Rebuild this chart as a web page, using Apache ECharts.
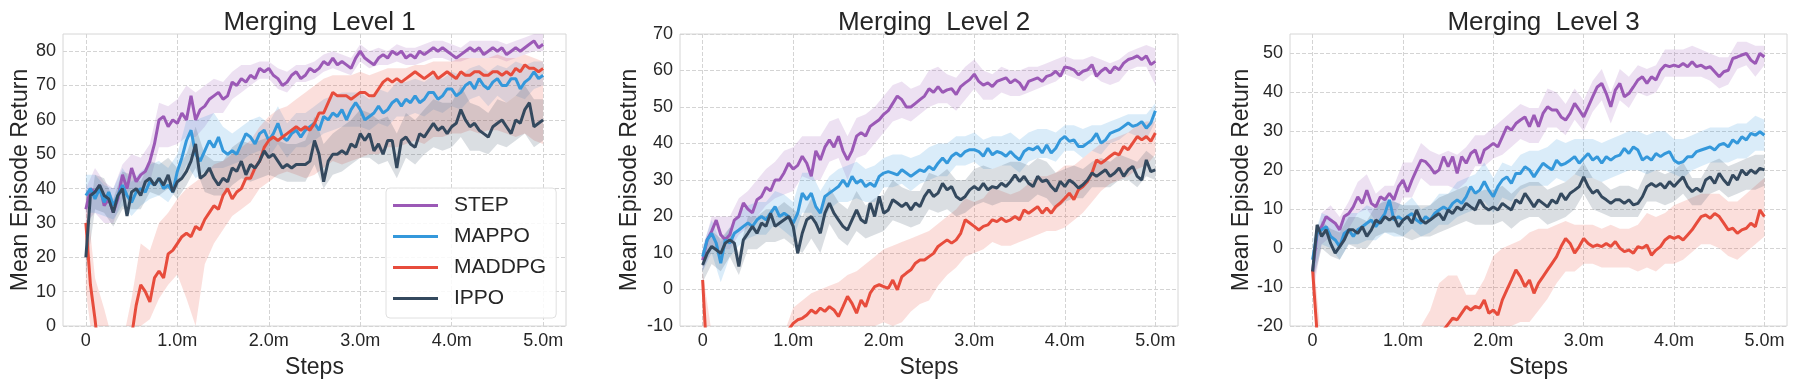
<!DOCTYPE html>
<html>
<head>
<meta charset="utf-8">
<script src="https://cdn.jsdelivr.net/npm/echarts@6/dist/echarts.min.js"></script>
<style>
  html, body { margin: 0; padding: 0; background: #fff; }
  #chart { width: 1799px; height: 386px; }
</style>
</head>
<body>
<div id="chart"></div>
<script>
// x positions (million steps)
const steps = Array.from({ length: 101 }, (_, i) => +(i * 0.05).toFixed(2));
const bandSteps = Array.from({ length: 51 }, (_, i) => +(i * 0.1).toFixed(1));

const algos = ['STEP', 'MAPPO', 'MADDPG', 'IPPO'];
const xTicks = [0, 1, 2, 3, 4, 5];

// ---- Merging Level 1 ----
const l1YTicks = [0, 10, 20, 30, 40, 50, 60, 70, 80];
const l1Step = [34,40,39,41,35,37,33,37,44,40, 46,42,44,45,48,53,60,61,58,60,
  59,62,60,67,60,63,64,66,67,68, 66,67,71,70,72,71,73,72,75,74,
  75,73,72,70,71,73,74,72,73,75, 74,75,77,76,78,76,77,76,75,78,
  80,78,77,76,78,79,78,80,79,80, 78,79,78,80,79,80,81,80,81,80,
  79,78,79,80,81,80,81,79,80,81, 80,81,79,80,81,80,81,82,83,81, 82];
const l1Mappo = [38,40,37,40,36,39,35,38,41,38, 36,39,40,39,42,41,43,40,41,39,
  45,49,54,57,50,48,51,54,52,55, 51,50,51,50,53,56,55,53,56,57,
  54,56,59,55,54,56,57,55,57,58, 59,57,61,60,62,61,63,60,63,65,
  63,60,61,62,64,62,63,65,66,64, 66,65,67,65,66,68,68,66,67,69,
  69,67,68,70,71,69,72,70,69,71, 72,70,70,72,72,69,71,72,74,72, 73];
const l1Maddpg = [30,12,2,-10,-20,-25,-28,-25,-18,-10, -3,6,12,10,7,14,16,14,21,22,
  24,26,27,26,29,28,31,33,35,34, 38,40,37,39,40,43,43,46,48,52,
  54,55,54,55,56,57,58,57,58,57, 59,62,62,65,68,67,67,67,66,67,
  68,68,67,67,69,71,72,71,72,71, 72,73,74,73,72,73,74,72,73,74,
  73,72,74,73,73,74,74,73,73,74, 74,73,74,73,75,74,76,75,75,74, 75];
const l1Ippo = [20,38,39,41,38,37,33,38,40,32, 39,40,38,42,43,41,43,41,44,39,
  42,43,45,48,53,43,44,46,43,41, 43,42,46,45,48,44,47,46,48,51,
  49,50,48,46,47,46,47,47,47,48, 54,50,42,48,50,50,51,50,53,52,
  56,54,56,51,53,50,54,54,46,54, 55,53,52,56,55,57,59,57,58,56,
  58,59,63,60,58,59,57,56,55,58, 59,60,58,56,60,59,63,65,58,59, 60];
const l1StepLo = [30,33,30,30,37,40,39,42,52,52, 53,55,55,58,62,62,66,68,70,72,
  72,69,68,71,71,72,74,75,74,73, 77,75,76,76,77,76,76,77,78,78, 77,77,78,78,78,78,77,78,79,80, 80];
const l1StepHi = [40,46,42,40,47,50,49,53,65,64, 66,70,68,70,72,71,74,76,76,77,
  77,75,74,76,76,77,79,80,79,78, 82,80,81,80,82,81,81,82,83,83, 82,81,83,83,83,83,82,83,84,85, 85];
const l1MappoLo = [33,33,32,31,35,32,35,37,38,36, 40,47,43,45,46,46,47,48,50,51,
  49,53,49,52,52,54,56,57,58,58, 58,57,59,58,61,61,62,61,63,62, 64,63,66,67,64,67,65,67,66,69, 70];
const l1MappoHi = [44,44,41,40,46,42,45,47,48,46, 50,60,60,61,62,58,56,58,60,61,
  59,64,59,62,62,64,66,67,68,68, 68,66,69,68,71,71,72,71,73,72, 74,73,75,76,74,76,75,77,76,77, 77];
const l1MaddpgLo = [10,-10,-30,-30,-30,-20,0,2,8,12, 15,8,0,18,24,28,32,34,36,40,
  42,44,45,44,43,44,46,48,47,48, 49,50,50,52,52,53,54,53,55,55, 56,56,57,56,57,57,56,55,56,54, 53];
const l1MaddpgHi = [40,14,5,-5,-5,8,24,22,30,33, 37,40,42,44,47,48,50,52,54,58,
  61,63,64,66,68,70,72,73,73,73, 74,73,74,75,75,75,76,76,77,77, 77,78,78,78,78,79,78,78,79,78, 77];
const l1IppoLo = [15,34,33,29,34,34,34,39,38,40, 37,41,46,39,38,38,41,43,42,43,
  44,43,42,42,42,47,40,44,45,47, 49,49,47,48,43,49,47,50,52,51, 52,55,51,51,50,53,52,54,56,52, 54];
const l1IppoHi = [25,44,43,37,45,44,42,48,47,49, 46,50,58,50,48,48,52,54,53,54,
  55,54,53,53,54,61,53,56,58,60, 63,62,60,61,56,62,60,63,66,65, 65,70,65,64,62,66,65,67,70,66, 66];

// ---- Merging Level 2 ----
const l2YTicks = [-10, 0, 10, 20, 30, 40, 50, 60, 70];
const l2Step = [8,13.6,16,19,15,13.6,15,19,20,23.7, 22,21,24.6,25.5,28,27,30,30,32,34.6,
  33,34,36.5,34.6,31,38,35.5,39,41,39, 42,38,35.5,38,42,43,42,44.7,45.6,46.5,
  48,49,51,53,52,50,50,51,52,53, 55,54,55.6,54,54.7,55,53.4,55.6,56.6,57.5,
  59,57,56,56.6,55.6,57,57.5,58,56.6,57.5, 56.6,54.7,57,57.5,58,57,58.4,58.8,59.8,58.4,
  61,60.7,60.2,58.8,59.8,60.2,61.6,58.4,59.8,60.7, 59.3,61,60.2,62,63,63.4,64,63,64,61.6, 62.5];
const l2Mappo = [9,13.6,15.4,12.7,7.2,13.6,12.7,15.4,16.3,17.3, 18.2,17.3,19.1,20,19.1,20.9,22.7,20,20.9,20,
  18.2,20.9,26.4,24.6,26.4,22.7,20.9,25.5,26.4,27.3, 28.2,30,28.2,31,29.1,30,28.2,29.1,28.2,31,
  31.9,32.3,31.9,31.4,32.8,31.9,31,31.9,32.8,32.3, 33.7,32.8,34.6,36,34.6,36.5,37.4,36.5,37.8,38.3,
  38.3,37.8,36.5,38.7,36.9,37.8,37.4,36.5,37.8,36.5, 35.5,37.8,38.7,38.3,39.2,37.4,39.6,37.4,38.7,41,
  41.9,40.6,41,39.2,39.2,40.1,41,42.8,40.1,41, 42.8,43.3,43.8,44.7,45.6,44.7,45.1,46,44.2,45.6, 49];
const l2Maddpg = [2.6,-20,-30,-32,-33,-34,-33,-32,-30,-29, -27,-26,-24,-22,-20,-18,-16,-14,-12.5,-11,
  -9.3,-8.3,-7.9,-7,-5.6,-6.5,-5.1,-6,-4.7,-5.6, -7.4,-4.7,-1.9,-3.8,-6.5,-2.9,-4.7,-1,0.8,1.3,
  0.8,0.3,2.6,-0.1,3.5,4.5,5.4,7.2,8.1,8.1, 9,9.9,11.8,12.7,13.6,12.7,13.6,15.4,19.1,18.2,
  17.3,16.3,17.3,17.7,19.1,18.6,19.5,18.6,19.1,20, 19.1,21.8,20.9,21.8,22.7,20.9,22.3,20.9,22.7,23.7,
  25,26.4,24.6,27.3,28.2,29.6,31.9,35.5,34.6,35.5, 36.5,37.4,36.9,39.2,38.3,40.1,41.9,41,41.9,40.6, 42.9];
const l2Ippo = [6.7,9.9,11.8,10.9,9.9,12.7,13.6,12.7,6.3,13.6, 15.4,17.3,15.4,18.2,17.3,20.9,17.3,18.2,19.1,20,
  17.3,9.9,15.4,19.1,20,18.2,15.4,20.9,23.7,20.9, 19.1,17.3,16.3,19.1,21.8,19.1,18.2,23.7,20,25.5,
  20.9,21.8,24.6,23.7,22.7,23.7,21.8,23.7,22.7,25.5, 27.3,25.5,26.4,29.1,27.3,28.2,25.5,24.6,25.5,27.3,
  28.2,27.3,29.1,27.3,28.2,27.8,29.1,28.2,29.6,31.4, 29.6,31,29.1,28.2,31,29.6,30,28.2,26.9,29.6,
  28.2,30,29.1,27.8,28.7,30,31.9,31,31.9,32.8, 31,31.9,33.3,31,32.8,33.7,31,30,35.5,32.3, 32.8];
const l2StepLo = [5,11,11,11,15,17,20,23,25,26, 27,31,30,30,35,36,30,36,37,40,
  43,46,47,46,48,50,51,51,49,52, 55,52,52,54,53,53,54,55,56,57, 59,58,57,59,57,56,57,60,61,61, 56];
const l2StepHi = [11,20,20,20,25,27,30,33,35,38, 39,42,42,42,46,47,42,47,48,50,
  53,56,57,55,56,60,61,59,58,61, 63,60,59,61,60,60,61,61,62,63, 64,63,63,64,63,62,63,65,66,67, 66];
const l2MappoLo = [5,10,2,9,12,14,15,15,18,16, 14,21,21,17,22,24,24,25,24,24,
  28,28,29,27,29,30,31,31,34,34, 35,33,33,34,34,32,35,36,36,35, 38,38,36,38,37,40,41,43,42,41, 46];
const l2MappoHi = [12,19,13,17,21,23,24,24,27,26, 24,32,32,27,31,33,34,35,33,34,
  36,37,37,36,37,39,40,40,42,42, 43,41,42,42,43,41,43,44,44,43, 45,45,44,45,45,46,47,48,48,48, 51];
const l2MaddpgLo = [-20,-40,-40,-40,-40,-40,-40,-40,-40,-40, -20,-18,-16,-15,-14,-13,-12,-12,-11,-10,
  -9,-10,-9,-6,-4,-3,1,4,6,9, 10,11,13,12,12,13,14,15,16,16, 17,19,21,24,27,29,30,31,33,34, 37];
const l2MaddpgHi = [5,-12,-12,-12,-12,-12,-12,-12,-12,-12, -5,-3,-1,0,1,2,4,5,7,9,
  11,12,13,14,15,16,18,20,22,25, 24,25,28,27,26,27,29,31,31,32, 34,34,36,38,40,41,42,43,45,46, 46];
const l2IppoLo = [2,7,5,9,4,11,11,13,13,14, 12,10,14,10,18,14,12,16,14,15,
  16,19,18,17,18,22,21,22,20,21, 23,24,23,24,24,24,24,26,25,22, 24,25,25,28,28,28,30,30,28,31, 30];
const l2IppoHi = [10,16,14,17,10,20,20,22,22,24, 22,20,25,21,28,24,22,27,23,25,
  26,30,28,27,27,32,31,33,30,30, 33,34,33,34,35,35,34,36,35,32, 33,34,33,35,36,35,37,36,35,38, 36];

// ---- Merging Level 3 ----
const l3YTicks = [-20, -10, 0, 10, 20, 30, 40, 50];
const l3Step = [-6,3.8,5.5,8.1,7.2,6.4,4.7,8.1,8.9,10.6, 13.2,11.5,14.9,11.5,10.6,13.2,12.4,14.1,12.4,15.8,
  17.5,14.5,17.5,20.1,22.6,22.2,20.9,19.2,20.1,23.5, 20.9,23.5,19.2,23.5,21.8,24.3,25.2,21.8,25.2,26,
  26.9,26,28.6,31.2,30.3,32,32.9,33.7,31.2,34.2, 31.2,34.6,36.3,35.5,35.5,33.7,32.9,34.6,37.2,35.5,
  33.7,36.3,38.9,41.4,42.3,39.7,36.3,40.6,42.3,38.9, 39.7,41.4,43.2,44,42.3,44,43.2,45.7,47,46.6,
  47,46.6,47.4,46.6,47.9,46.6,47,46.2,46.6,45.3, 44,45.3,45.7,48.7,49.1,49.6,50,48.3,47.4,50, 49.1];
const l3Mappo = [-3,3.8,4.7,5.5,3,2.1,0.4,3.8,4.7,3, 4.7,5.5,6.4,7.2,5.5,7.2,8.9,12.4,7.2,8.1,
  7.2,8.1,8.9,7.2,6.4,8.1,7.2,8.9,9.8,10.6, 9.8,11.5,12.4,11.5,13.2,15.8,14.1,14.9,17.1,14.9,
  13.2,15.8,17.5,18.3,16.6,19.2,19.2,20.9,20.1,18.3, 20.1,21.8,20.9,20.1,22.6,21.3,21.8,22.6,23.5,21.8,
  23.1,24.3,22.6,23.5,21.8,23.5,22.6,23.5,23.9,25.6, 24.3,26,25.2,22.6,23.5,22.6,24.3,23.5,24.3,24.8,
  22.6,21.8,22.2,23.5,23.5,24.8,25.2,25.6,26,25.2, 26.5,26.9,26,27.8,26.9,28.6,27.8,29.5,29,29.9, 29];
const l3Maddpg = [-5.6,-22,-35,-38,-40,-40,-40,-39,-38,-37, -36,-35,-34,-33,-32,-31,-30,-30,-29,-29,
  -28,-28,-27,-26,-25,-25,-24,-23,-22,-21, -19.5,-18,-18.4,-16.7,-15,-15.9,-15,-15.4,-13.3,-16.7,
  -15.9,-17.2,-13.3,-10.7,-8.2,-5.6,-7.3,-9.9,-8.2,-11.6, -9,-7.3,-5.6,-3.9,-2.2,0.4,2.5,1.2,-1.3,0.4,
  2.5,1.2,0.4,0.8,0.4,1.2,0.4,1.7,0,-0.9, -0.5,-1.3,0.4,0,0.8,-1.8,-0.5,0.4,2.1,3,
  2.5,3,2.1,3.4,4.7,6.4,8.1,8.5,7.7,8.9, 8.1,6.4,4.7,5.1,3.8,4.7,5.1,6.4,5.5,9.8, 8.1];
const l3Ippo = [-6,6,3,4.7,1.2,-1.3,0.4,2.1,4.7,4.7, 3.8,5.5,3,4.7,7.2,6.4,8.1,7.2,8.1,5.5,
  7.2,8.1,6.4,9.8,7.2,6.4,7.2,8.1,8.9,7.2, 9.8,8.9,10.6,9.8,11.5,10.6,9.8,12.4,10.6,9.8,
  10.6,9.8,11.5,10.6,9.8,12.4,11.5,14.1,12.4,10.6, 12.4,11.5,10.6,12.4,11.5,14.1,12.4,14.1,14.9,15.8,
  18.3,15.8,14.1,14.9,13.2,12.4,11.5,12.4,12.4,11.5, 12.4,11.1,11.5,13.2,15.8,16.6,15.8,16.6,15.4,17.1,
  15.8,17.1,18.3,15.8,14.5,15.4,14.5,17.5,18.3,16.6, 19.2,17.5,16.2,18.8,17.5,20.1,18.8,20.1,19.2,20.5, 20.1];
const l3StepLo = [-12,1,3,1,5,9,10,7,8,8, 13,13,18,16,16,16,15,17,21,21,
  23,24,26,28,27,27,31,31,29,33, 30,35,38,32,38,36,40,39,40,44, 44,44,44,44,43,41,42,46,47,44, 47];
const l3StepHi = [-2,9,11,8,12,17,19,14,16,16, 22,22,27,25,24,25,24,26,29,29,
  31,33,35,37,36,36,41,40,37,41, 38,43,46,40,46,44,47,46,47,51, 51,51,52,51,50,49,49,53,53,52, 52];
const l3MappoLo = [-8,1,0,-3,1,1,2,2,4,3, 3,5,3,4,6,6,8,9,10,12,
  9,13,12,15,16,16,16,18,17,19, 18,18,17,18,19,20,20,19,20,20, 19,18,20,21,22,22,22,23,23,25, 25];
const l3MappoHi = [2,9,8,5,9,9,11,10,13,12, 11,13,10,11,14,14,17,18,19,22,
  18,22,21,24,25,25,26,28,27,28, 28,28,27,28,29,30,30,29,30,30, 28,28,29,30,31,31,31,32,32,34, 33];
const l3MaddpgLo = [-10,-40,-40,-40,-40,-40,-40,-40,-40,-40, -40,-40,-40,-40,-40,-40,-35,-30,-28,-26,
  -25,-22,-20,-19,-19,-16,-13,-9,-6,-6, -4,-4,-5,-5,-5,-5,-6,-5,-6,-4, -4,-3,-1,1,1,0,-2,-3,-1,1, 3];
const l3MaddpgHi = [0,-25,-25,-25,-25,-25,-25,-25,-25,-25, -25,-25,-20,-16,-9,-7,-7,-12,-12,-8,
  -2,0,1,2,4,5,5,6,7,6, 6,6,5,6,5,5,6,9,8,9, 11,12,13,14,14,14,12,12,14,16, 18];
const l3IppoLo = [-9,0,-2,-3,1,0,0,3,4,4, 3,2,3,3,4,5,6,7,6,6,
  6,7,5,7,8,8,6,7,8,10, 14,10,9,8,8,8,8,12,12,11, 12,14,11,11,14,15,13,14,15,15, 16];
const l3IppoHi = [-1,7,5,4,8,8,7,11,12,12, 11,11,11,11,13,14,15,16,14,15,
  15,16,14,16,17,17,15,16,17,19, 22,18,17,15,16,16,15,20,20,19, 20,22,18,18,22,23,21,22,23,24, 24];

// panel data
const panels = [
  { title: 'Merging  Level 1', min: 0, max: 85, yTicks: l1YTicks,
    means: [l1Step, l1Mappo, l1Maddpg, l1Ippo],
    lows: [l1StepLo, l1MappoLo, l1MaddpgLo, l1IppoLo],
    highs: [l1StepHi, l1MappoHi, l1MaddpgHi, l1IppoHi] },
  { title: 'Merging  Level 2', min: -10, max: 70, yTicks: l2YTicks,
    means: [l2Step, l2Mappo, l2Maddpg, l2Ippo],
    lows: [l2StepLo, l2MappoLo, l2MaddpgLo, l2IppoLo],
    highs: [l2StepHi, l2MappoHi, l2MaddpgHi, l2IppoHi] },
  { title: 'Merging  Level 3', min: -20, max: 55, yTicks: l3YTicks,
    means: [l3Step, l3Mappo, l3Maddpg, l3Ippo],
    lows: [l3StepLo, l3MappoLo, l3MaddpgLo, l3IppoLo],
    highs: [l3StepHi, l3MappoHi, l3MaddpgHi, l3IppoHi] },
];

// layout / style
const layout = [
  { left: 63, width: 503, nameGap: 29 },
  { left: 680, width: 498, nameGap: 39 },
  { left: 1290, width: 497, nameGap: 37 },
];
const colors = ['#9b59b6', '#3498db', '#e74c3c', '#34495e'];
const FONT = '"Liberation Sans", Arial, sans-serif';
const TXT = '#262626';

const rgba = (hex, a) => {
  const n = parseInt(hex.slice(1), 16);
  return `rgba(${(n >> 16) & 255},${(n >> 8) & 255},${n & 255},${a})`;
};

const chart = echarts.init(document.getElementById('chart'), null, { renderer: 'canvas' });

const grid = [], xAxis = [], yAxis = [], title = [], series = [];

panels.forEach((p, k) => {
  const L = layout[k];
  grid.push({ left: L.left, top: 34, width: L.width, height: 292, show: true,
    borderColor: '#d6d6d6', borderWidth: 1, backgroundColor: 'transparent' });
  title.push({ text: p.title, left: L.left + L.width / 2, top: 5, textAlign: 'center',
    textStyle: { fontSize: 26, fontWeight: 'normal', color: TXT, fontFamily: FONT } });
  xAxis.push({
    type: 'value', gridIndex: k, min: -0.25, max: 5.25,
    axisLine: { show: false },
    axisTick: { show: false, customValues: xTicks },
    axisLabel: { customValues: xTicks, fontSize: 18, color: TXT, fontFamily: FONT, margin: 6,
      formatter: (v) => (v === 0 ? '0' : v.toFixed(1) + 'm') },
    splitLine: { show: true, lineStyle: { color: '#d4d4d4', width: 1, type: [4, 2] } },
    name: 'Steps', nameLocation: 'middle', nameGap: 30,
    nameTextStyle: { fontSize: 23, color: TXT, fontFamily: FONT },
  });
  yAxis.push({
    type: 'value', gridIndex: k, min: p.min, max: p.max,
    axisLine: { show: false },
    axisTick: { show: false, customValues: p.yTicks },
    axisLabel: { customValues: p.yTicks, fontSize: 18, color: TXT, fontFamily: FONT, margin: 7 },
    splitLine: { show: true, lineStyle: { color: '#d4d4d4', width: 1, type: [4, 2] } },
    name: 'Mean Episode Return', nameLocation: 'middle', nameGap: L.nameGap,
    nameTextStyle: { fontSize: 23, color: TXT, fontFamily: FONT },
  });

  // shaded bands
  algos.forEach((name, j) => {
    const rows = bandSteps.map((t, i) => [t, p.lows[j][i], p.highs[j][i]]);
    series.push({
      type: 'custom', name: name + ' band ' + (k + 1), xAxisIndex: k, yAxisIndex: k,
      silent: true, z: 1, data: rows, encode: { x: 0, y: [1, 2] },
      renderItem: (params, api) => {
        if (params.dataIndex !== 0) return null;
        const upper = rows.map((r) => api.coord([r[0], r[2]]));
        const lower = rows.map((r) => api.coord([r[0], r[1]])).reverse();
        const cs = params.coordSys;
        return {
          type: 'polygon',
          shape: { points: upper.concat(lower) },
          style: { fill: rgba(colors[j], 0.18) },
          clipPath: { type: 'rect', shape: { x: cs.x, y: cs.y, width: cs.width, height: cs.height } },
        };
      },
    });
  });

  // mean lines
  algos.forEach((name, j) => {
    series.push({
      type: 'line', name: name, xAxisIndex: k, yAxisIndex: k, z: 3, silent: true,
      data: steps.map((t, i) => [t, p.means[j][i]]),
      symbol: 'none', showSymbol: false,
      lineStyle: { color: colors[j], width: 3 },
      itemStyle: { color: colors[j] },
    });
  });
});

chart.setOption({
  animation: false,
  backgroundColor: '#ffffff',
  title, grid, xAxis, yAxis, series,
  legend: {
    data: algos, orient: 'vertical', left: 386, top: 188,
    icon: 'rect', itemWidth: 45, itemHeight: 3, itemGap: 10,
    padding: [7, 10, 9, 7],
    backgroundColor: 'rgba(255,255,255,0.85)', borderColor: '#e0e0e0', borderWidth: 1, borderRadius: 4,
    textStyle: { fontSize: 21, color: TXT, fontFamily: FONT, lineHeight: 21, padding: [0, 0, 0, 11] },
  },
});
</script>
</body>
</html>
